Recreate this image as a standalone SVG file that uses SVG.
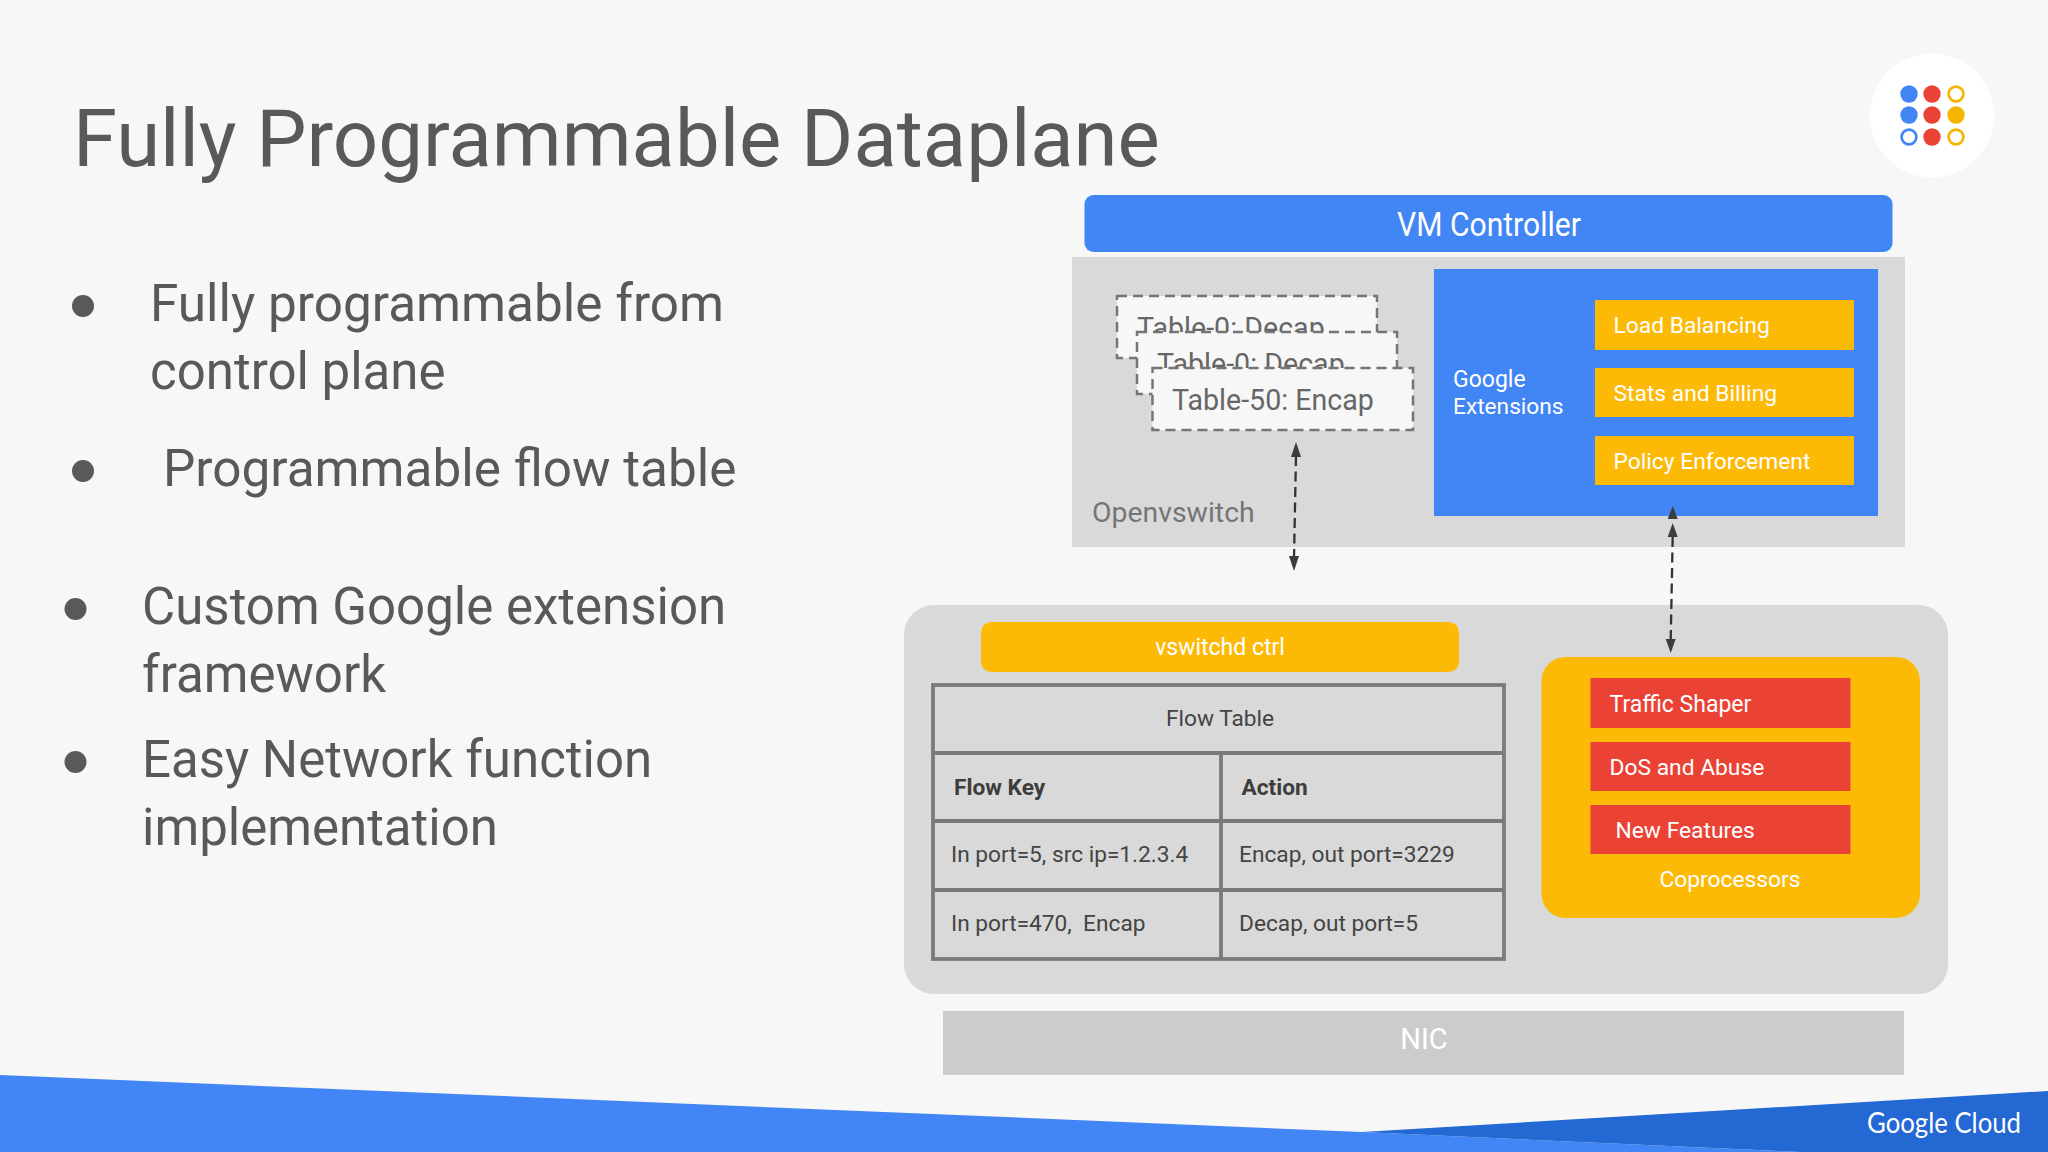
<svg xmlns="http://www.w3.org/2000/svg" width="2048" height="1152" viewBox="0 0 2048 1152">
<defs>
<style>
text{font-family:Roboto,"Liberation Sans",sans-serif}
.h{font-size:51.3px;fill:#595959}
.h2{font-size:51px;fill:#595959}
.w{fill:#fff}
.s{font-size:23px}
.t{font-size:22.700px;fill:#444}
.b{font-size:22.700px;fill:#3d3d3d;font-weight:700}
.y{fill:#fcba07}
.r{fill:#ea4335}
.bl{fill:#4285f4}
.dash{fill:#f7f7f7;stroke:#757575;stroke-width:2.5;stroke-dasharray:10 6}
.dt{font-size:28.600px;fill:#666}
.tb{fill:none;stroke:#7a7a7a;stroke-width:3.800}
.ln{fill:none;stroke:#333;stroke-width:2.300;stroke-dasharray:10 5.500}
.ah{fill:#3c3c3c}
</style>
<clipPath id="c1"><rect x="1100" y="290" width="300" height="42"/></clipPath>
<clipPath id="c2"><rect x="1100" y="332" width="300" height="36"/></clipPath>
</defs>
<rect width="2048" height="1152" fill="#f7f7f8"/>
<g id="footer">
<polygon points="0,1075 1362,1132 1800,1152 0,1152" fill="#4285f4"/>
<polygon points="1362,1132 2048,1091 2048,1152 1800,1152" fill="#2368d3"/>
<text x="1867" y="1133" font-size="29" fill="#fff" textLength="154" lengthAdjust="spacingAndGlyphs" style="font-family:Lato,'Open Sans',sans-serif">Google Cloud</text>
</g>
<g id="logo">
<circle cx="1932" cy="115.500" r="62" fill="#fff"/>
<circle cx="1909" cy="94" r="8.700" fill="#4285f4"/><circle cx="1932" cy="94" r="8.700" fill="#ea4335"/><circle cx="1956" cy="94" r="7.400" fill="none" stroke="#f4b400" stroke-width="2.600"/>
<circle cx="1909" cy="115" r="8.700" fill="#4285f4"/><circle cx="1932" cy="115" r="8.700" fill="#ea4335"/><circle cx="1956" cy="115" r="8.700" fill="#f4b400"/>
<circle cx="1909" cy="137" r="7.400" fill="none" stroke="#4285f4" stroke-width="2.600"/><circle cx="1932" cy="137" r="8.700" fill="#ea4335"/><circle cx="1956" cy="137" r="7.400" fill="none" stroke="#f4b400" stroke-width="2.600"/>
</g>
<text id="title" x="73" y="166" font-size="79.700" fill="#595959">Fully Programmable Dataplane</text>
<g id="bullets">
<circle cx="83" cy="306" r="11" fill="#595959"/>
<text class="h" x="150" y="321">Fully programmable from</text>
<text class="h2" x="150" y="389">control plane</text>
<circle cx="83" cy="471" r="11" fill="#595959"/>
<text class="h" x="163" y="486">Programmable flow table</text>
<circle cx="75.500" cy="609" r="11" fill="#595959"/>
<text class="h2" x="142" y="624">Custom Google extension</text>
<text class="h2" x="142" y="692">framework</text>
<circle cx="75.500" cy="762" r="11" fill="#595959"/>
<text class="h2" x="142" y="777">Easy Network function</text>
<text class="h2" x="142" y="845">implementation</text>
</g>
<g id="vm-controller">
<rect x="1084.500" y="195" width="808" height="57" rx="9" class="bl"/>
<text class="w" x="1489" y="236" font-size="33" text-anchor="middle" textLength="184" lengthAdjust="spacingAndGlyphs">VM Controller</text>
</g>
<g id="openvswitch">
<rect x="1072" y="257" width="833" height="290" fill="#d9d9d9"/>
<text x="1092" y="522" font-size="28.400" fill="#757575">Openvswitch</text>
</g>
<g id="table-0a">
<rect x="1117" y="296" width="260" height="62" class="dash"/>
<text class="dt" x="1137" y="338" clip-path="url(#c1)">Table-0: Decap</text>
</g>
<g id="table-0b">
<rect x="1137" y="332" width="260" height="62" class="dash"/>
<text class="dt" x="1157" y="374" clip-path="url(#c2)">Table-0: Decap</text>
</g>
<g id="table-50">
<rect x="1152.500" y="368" width="260.500" height="62" class="dash"/>
<text class="dt" x="1172" y="410">Table-50: Encap</text>
</g>
<g id="google-extensions">
<rect x="1434" y="269" width="444" height="247" class="bl"/>
<text class="w s" x="1453" y="387">Google</text>
<text class="w" font-size="22.700" x="1453" y="414">Extensions</text>
</g>
<g id="load-balancing"><rect x="1595" y="300" width="259" height="50" class="y"/><text class="w" font-size="22.800" x="1613.500" y="333">Load Balancing</text></g>
<g id="stats-billing"><rect x="1595" y="368" width="259" height="49" class="y"/><text class="w" font-size="22.800" x="1613.500" y="401">Stats and Billing</text></g>
<g id="policy"><rect x="1595" y="436" width="259" height="49" class="y"/><text class="w" font-size="22.800" x="1613.500" y="469">Policy Enforcement</text></g>
<g id="host">
<rect x="904" y="605" width="1044" height="389" rx="30" fill="#d9d9d9"/>
</g>
<g id="vswitchd"><rect x="981" y="622" width="478" height="50" rx="10" class="y"/><text class="w s" x="1220" y="655" text-anchor="middle">vswitchd ctrl</text></g>
<g id="flow-table">
<rect x="933" y="685" width="571" height="274" class="tb"/>
<path d="M933 753H1504M933 821H1504M933 890H1504M1221 753V959" class="tb"/>
<text class="t" x="1220" y="726" text-anchor="middle">Flow Table</text>
<text class="b" x="954" y="795">Flow Key</text>
<text class="b" x="1241.500" y="795">Action</text>
<text class="t" x="951" y="862">In port=5, src ip=1.2.3.4</text>
<text class="t" x="1239" y="862">Encap, out port=3229</text>
<text class="t" x="951" y="931" xml:space="preserve">In port=470,  Encap</text>
<text class="t" x="1239" y="931">Decap, out port=5</text>
</g>
<g id="coprocessors">
<rect x="1541.500" y="657" width="378.500" height="261" rx="24" class="y"/>
<text class="w" font-size="22.800" x="1730" y="887" text-anchor="middle">Coprocessors</text>
</g>
<g id="traffic-shaper"><rect x="1590.500" y="678" width="260" height="50" class="r"/><text class="w s" x="1609.500" y="712">Traffic Shaper</text></g>
<g id="dos-abuse"><rect x="1590.500" y="742" width="260" height="49" class="r"/><text class="w" font-size="22.800" x="1609.500" y="775">DoS and Abuse</text></g>
<g id="new-features"><rect x="1590.500" y="805" width="260" height="49" class="r"/><text class="w" font-size="22.800" x="1615.500" y="838">New Features</text></g>
<g id="nic"><rect x="943" y="1011" width="961" height="64" fill="#ccc"/><text class="w" font-size="29" x="1424" y="1049" text-anchor="middle">NIC</text></g>
<g id="connectors">
<path d="M1296 456L1294 558" class="ln"/>
<path d="M1296 442L1301 457H1291Z" class="ah"/>
<path d="M1294 571L1289 556H1299Z" class="ah"/>
<path d="M1672.700 537L1670.700 640" class="ln"/>
<path d="M1672.700 506L1677.700 519H1667.700Z" class="ah"/>
<path d="M1672.700 523L1677.700 537H1667.700Z" class="ah"/>
<path d="M1670.700 653L1665.700 639H1675.700Z" class="ah"/>
</g>
</svg>
